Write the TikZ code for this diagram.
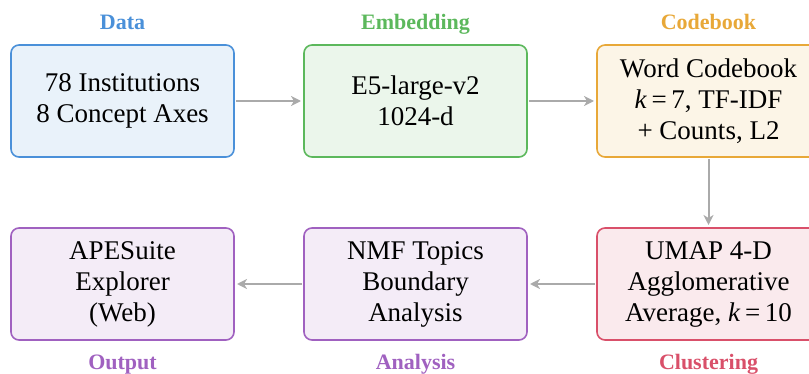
\documentclass[tikz,border=0pt]{standalone}
\usepackage{fontspec}
\setmainfont{Liberation Serif}
\usepackage{tikz}
\usetikzlibrary{positioning, arrows.meta}

\definecolor{dataC}{HTML}{4A90D9}
\definecolor{embC}{HTML}{5CB85C}
\definecolor{codeC}{HTML}{E8A838}
\definecolor{clusC}{HTML}{D9506A}
\definecolor{outC}{HTML}{A061C0}
\definecolor{flowC}{HTML}{AAAAAA}

\tikzset{
  stage/.style={draw=#1, fill=#1!12, line width=0.8pt, rounded corners=4pt, outer sep=0pt,
    minimum width=111.5pt, minimum height=56pt, align=center,
    font=\fontsize{13.5}{15.5}\selectfont},
  tag/.style={text=#1, font=\fontsize{11}{13}\selectfont\bfseries, anchor=base},
  flow/.style={-{Stealth[length=5pt,width=5pt,inset=1.5pt]}, draw=flowC, line width=1pt,
    shorten <=1pt, shorten >=1.5pt}
}

\begin{document}
\begin{tikzpicture}
\useasboundingbox (0,0) rectangle (404.5pt,-187pt);

% top row
\node[stage=dataC] (data) at (61.25pt,-50.5pt) {78 Institutions\\8 Concept Axes};
\node[stage=embC, right=35pt of data] (embed) {E5-large-v2\\1024-d};
\node[stage=codeC, right=35pt of embed] (codebook) {Word Codebook\\\textit{k}\,=\,7, TF-IDF\\+ Counts, L2};

% bottom row
\node[stage=clusC, below=35.5pt of codebook] (cluster) {UMAP 4-D\\Agglomerative\\Average, \textit{k}\,=\,10};
\node[stage=outC, left=35pt of cluster] (analysis) {NMF Topics\\Boundary\\Analysis};
\node[stage=outC, left=35pt of analysis] (output) {APESuite\\Explorer\\(Web)};

% stage tags
\node[tag=dataC] (dataTag) at ([yshift=7.5pt]data.north) {Data};
\node[tag=embC] (embedTag) at ([yshift=7.5pt]embed.north) {Embedding};
\node[tag=codeC] (codebookTag) at ([yshift=7.5pt]codebook.north) {Codebook};
\node[tag=outC] (outputTag) at ([yshift=-14.5pt]output.south) {Output};
\node[tag=outC] (analysisTag) at ([yshift=-14.5pt]analysis.south) {Analysis};
\node[tag=clusC] (clusterTag) at ([yshift=-14.5pt]cluster.south) {Clustering};

% connectors
\draw[flow] (data) -- (embed);
\draw[flow] (embed) -- (codebook);
\draw[flow] (codebook) -- (cluster);
\draw[flow] (cluster) -- (analysis);
\draw[flow] (analysis) -- (output);
\end{tikzpicture}
\end{document}
